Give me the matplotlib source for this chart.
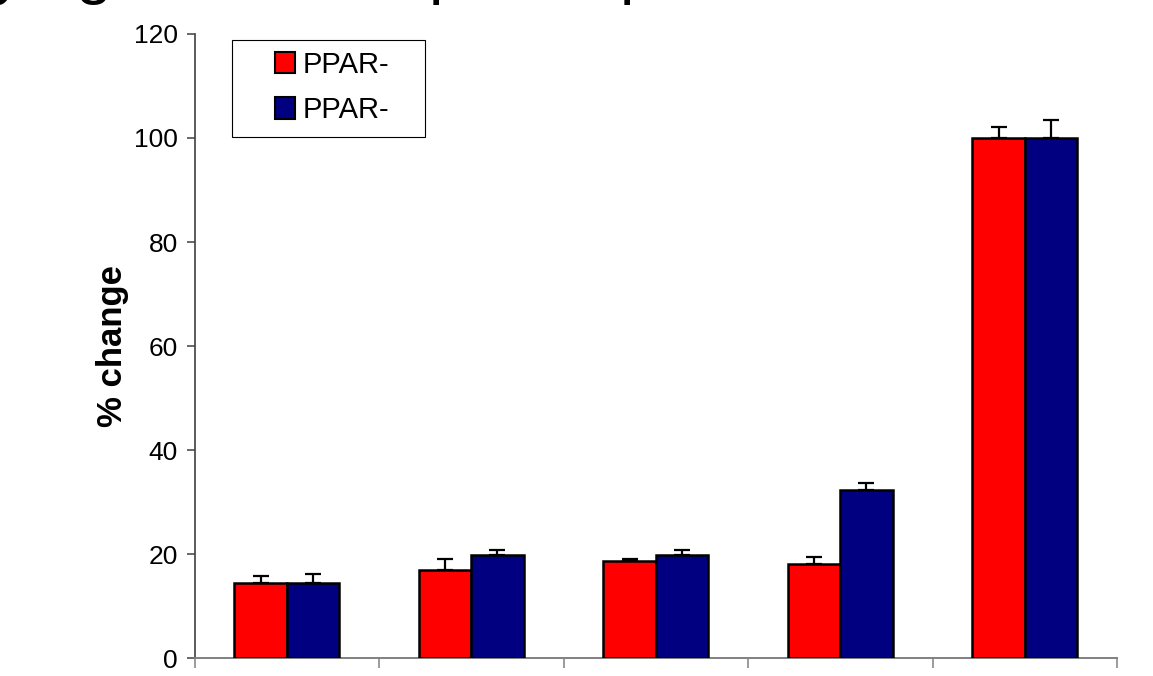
import matplotlib
matplotlib.use("Agg")
import matplotlib.pyplot as plt
from matplotlib.patches import Rectangle, Patch
import numpy as np

plt.rcParams['font.family'] = ['Liberation Sans', 'DejaVu Sans']

# data
groups = ['1', '2', '3', '4', '5']
red_vals = [14.4, 16.9, 18.7, 18.1, 100]
red_err = [1.4, 2.1, 0.4, 1.4, 2.2]
blue_vals = [14.4, 19.9, 19.9, 32.3, 100]
blue_err = [1.8, 0.9, 0.9, 1.3, 3.5]
labels = ['PPAR-', 'PPAR-']
yticks = [0, 20, 40, 60, 80, 100, 120]

# the slide title is cut off at the top, so draw on a taller canvas and crop
W, H, TOP = 1153, 676, 80
HF = H + TOP

def fx(px):
    return px / W

def fy(py):
    return 1 - (py + TOP) / HF

fig = plt.figure(figsize=(W / 100, HF / 100), dpi=100)
ax = fig.add_axes([fx(194.5), fy(658.3), fx(1117) - fx(194.5), fy(33.9) - fy(658.3)])

x = np.arange(len(groups))
w = 0.284
ax.bar(x - w / 2, red_vals, w, color='#FF0000', edgecolor='black', linewidth=1.8, zorder=3)
ax.bar(x + w / 2, blue_vals, w, color='#000080', edgecolor='black', linewidth=1.8, zorder=3)
# only the upper half of the error bars is shown
ax.errorbar(x - w / 2, red_vals, yerr=[np.zeros(5), red_err], fmt='none',
            ecolor='black', elinewidth=1.6, capsize=6, capthick=1.6, zorder=2)
ax.errorbar(x + w / 2, blue_vals, yerr=[np.zeros(5), blue_err], fmt='none',
            ecolor='black', elinewidth=1.6, capsize=6, capthick=1.6, zorder=2)

ax.set_xlim(-0.5, len(groups) - 0.5)
ax.set_ylim(0, 120)
ax.set_yticks(yticks)
ax.set_xticks(np.arange(len(groups) + 1) - 0.5)
ax.set_xticklabels([])
ax.tick_params(axis='y', direction='out', length=5.8, width=1.1, colors='#404040',
               labelcolor='black', labelsize=19, pad=6)
ax.tick_params(axis='x', direction='out', length=7, width=1.1, colors='#808080')
for s in ['top', 'right']:
    ax.spines[s].set_visible(False)
ax.spines['left'].set_color('#404040')
ax.spines['bottom'].set_color('#808080')
ax.spines['left'].set_linewidth(1.2)
ax.spines['bottom'].set_linewidth(1.4)

ax.set_ylabel('% change', fontsize=25, fontweight='bold', labelpad=4)

# legend box
fig.patches.append(Rectangle((fx(232), fy(137)), fx(425) - fx(232), fy(40) - fy(137),
                             transform=fig.transFigure, facecolor='white',
                             edgecolor='black', linewidth=0.8, zorder=5))
handles = [Patch(facecolor='#FF0000', edgecolor='black', linewidth=1.5),
           Patch(facecolor='#000080', edgecolor='black', linewidth=1.5)]
leg = fig.legend(handles, labels, loc='center', bbox_to_anchor=(fx(332), fy(87.5)),
                 frameon=False, fontsize=21, handlelength=0.68, handleheight=0.75,
                 handletextpad=0.25, labelspacing=0.6, borderpad=0)
leg.set_zorder(6)

# cut-off slide title: only the descenders reach into the picture
for ch, px in [('y', -8), ('g', 75), ('p', 429), ('p', 620)]:
    fig.text(fx(px), fy(-8), ch, fontsize=47, ha='left', va='baseline')

fig.canvas.draw()
img = np.asarray(fig.canvas.buffer_rgba())[TOP:TOP + H, :W, :3]
plt.imsave('out.png', img)
